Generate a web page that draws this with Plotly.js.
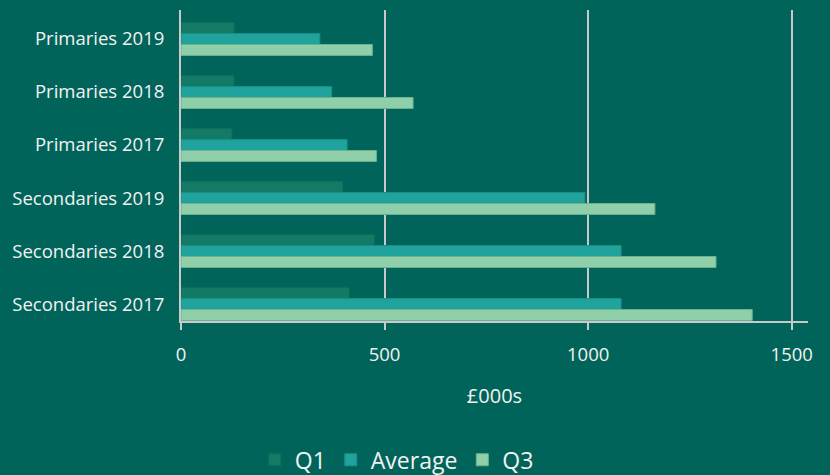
<!DOCTYPE html>
<html><head><meta charset="utf-8">
<script src="https://cdn.plot.ly/plotly-3.0.1.min.js"></script>
<style>html,body{margin:0;padding:0;background:#01645a;}</style>
</head><body>
<div id="chart" style="width:830px;height:475px;"></div>
<script>
const categories = ["Primaries 2019","Primaries 2018","Primaries 2017","Secondaries 2019","Secondaries 2018","Secondaries 2017"];
const q1 = [131, 130, 125, 397, 475, 413];
const average = [341, 370, 408, 992, 1081, 1081];
const q3 = [470, 570, 480, 1164, 1314, 1403];
const seriesNames = ["Q1","Average","Q3"];
const xTicks = [0, 500, 1000, 1500];

const colors = ["#137a65", "#20a39c", "#8fd0aa"];
const lineColors = ["#0f6e5b", "#1a8f88", "#6fb08e"];
const data = [q1, average, q3].map((vals, i) => ({
  type: "bar", orientation: "h", name: seriesNames[i],
  y: categories, x: vals,
  marker: {color: colors[i], line: {color: lineColors[i], width: 1}},
  hoverinfo: "x+y"
}));

const layout = {
  width: 830, height: 475,
  paper_bgcolor: "#01645a", plot_bgcolor: "#01645a",
  margin: {l: 181, r: 22, t: 10, b: 154, autoexpand: false},
  font: {family: "Open Sans, sans-serif", color: "#f2f2f2"},
  barmode: "group", bargap: 0.38, bargroupgap: 0,
  xaxis: {
    range: [0, 1540], tickvals: xTicks, ticktext: xTicks.map(String),
    automargin: false,
    showgrid: true, gridcolor: "#c9c9c9", gridwidth: 2,
    zeroline: false, showline: true, linecolor: "#c9c9c9", linewidth: 2,
    ticks: "outside", ticklen: 7, tickwidth: 2, tickcolor: "#c9c9c9",
    ticklabelstandoff: 9,
    tickfont: {size: 18.5, color: "#f2f2f2"},
    title: {text: "£000s", font: {size: 20, color: "#f2f2f2"}, standoff: 24}
  },
  yaxis: {
    type: "category", automargin: false,
    range: [5.32, -0.547],
    showgrid: false, zeroline: false,
    showline: true, linecolor: "#c9c9c9", linewidth: 2,
    ticks: "", ticklabelstandoff: 11,
    tickfont: {size: 18.5, color: "#f2f2f2"}
  },
  legend: {
    orientation: "h", x: 0.478, xref: "container", xanchor: "center",
    y: 0.032, yref: "container", yanchor: "middle",
    font: {size: 23, color: "#f2f2f2"}, itemwidth: 30, bgcolor: "rgba(0,0,0,0)"
  },
  showlegend: true
};
Plotly.newPlot("chart", data, layout, {displayModeBar: false, staticPlot: true});
</script>
</body></html>
